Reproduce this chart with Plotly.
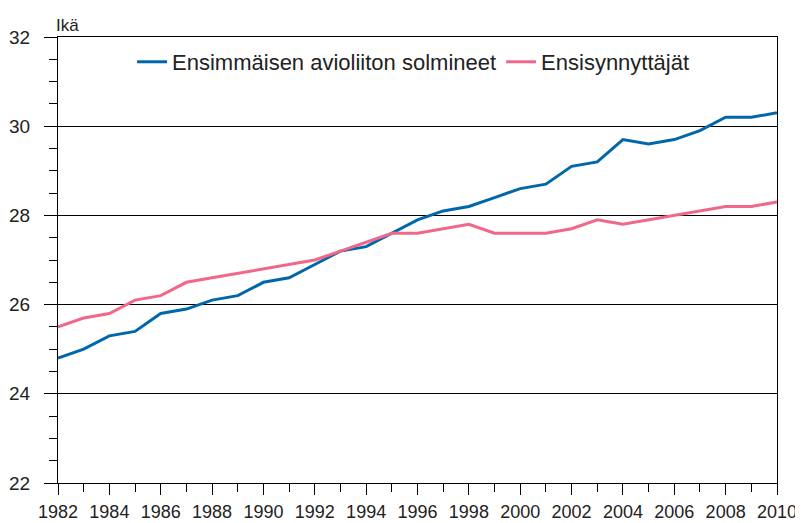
import plotly.graph_objects as go

years = list(range(1982, 2011))
marriage = [24.8, 25.0, 25.3, 25.4, 25.8, 25.9, 26.1, 26.2, 26.5, 26.6,
            26.9, 27.2, 27.3, 27.6, 27.9, 28.1, 28.2, 28.4, 28.6, 28.7,
            29.1, 29.2, 29.7, 29.6, 29.7, 29.9, 30.2, 30.2, 30.3]
firstbirth = [25.5, 25.7, 25.8, 26.1, 26.2, 26.5, 26.6, 26.7, 26.8, 26.9,
              27.0, 27.2, 27.4, 27.6, 27.6, 27.7, 27.8, 27.6, 27.6, 27.6,
              27.7, 27.9, 27.8, 27.9, 28.0, 28.1, 28.2, 28.2, 28.3]
series_names = ["Ensimmäisen avioliiton solmineet", "Ensisynnyttäjät"]
y_title = "Ikä"

FONT = "Liberation Sans, Arial, sans-serif"
BLUE = "#0068aa"
PINK = "#f0678a"

fig = go.Figure()
fig.add_trace(go.Scatter(x=years, y=marriage, mode="lines", name=series_names[0],
                         line=dict(color=BLUE, width=3)))
fig.add_trace(go.Scatter(x=years, y=firstbirth, mode="lines", name=series_names[1],
                         line=dict(color=PINK, width=3)))

# the page body adds an 8px offset, so the figure is 8px smaller than the window
fig.update_layout(
    width=795, height=515,
    margin=dict(l=50, r=26, t=29, b=40, autoexpand=False),
    paper_bgcolor="white", plot_bgcolor="white",
    font=dict(family=FONT, color="#222222"),
    showlegend=True,
    legend=dict(orientation="h", x=0.103, xanchor="left", y=0.944, yanchor="middle",
                font=dict(size=22, family=FONT, color="#222222"),
                bgcolor="rgba(0,0,0,0)", borderwidth=0),
    annotations=[dict(text=y_title, xref="paper", yref="paper", x=-0.006, y=1.025,
                      xanchor="left", yanchor="middle", showarrow=False,
                      font=dict(size=17, family=FONT, color="#222222"))],
)

fig.update_xaxes(
    range=[1982, 2010], dtick=2, tick0=1982, automargin=False,
    showgrid=False, zeroline=False,
    showline=True, linecolor="black", linewidth=1, mirror=True,
    ticks="outside", ticklen=11, tickcolor="black", tickwidth=1,
    tickfont=dict(size=18, family=FONT, color="#222222"),
    minor=dict(dtick=1, ticks="outside", ticklen=8, tickcolor="black", showgrid=False),
    ticklabelstandoff=1,
)
fig.update_yaxes(
    range=[22, 32], dtick=2, tick0=22, automargin=False,
    showgrid=True, gridcolor="black", gridwidth=1, zeroline=False,
    showline=True, linecolor="black", linewidth=1, mirror=True,
    ticks="outside", ticklen=13, tickcolor="black", tickwidth=1,
    tickfont=dict(size=19, family=FONT, color="#222222"),
    minor=dict(dtick=0.5, ticks="outside", ticklen=8, tickcolor="black", showgrid=False),
    ticklabelstandoff=10,
)

fig.write_html("out.html")
